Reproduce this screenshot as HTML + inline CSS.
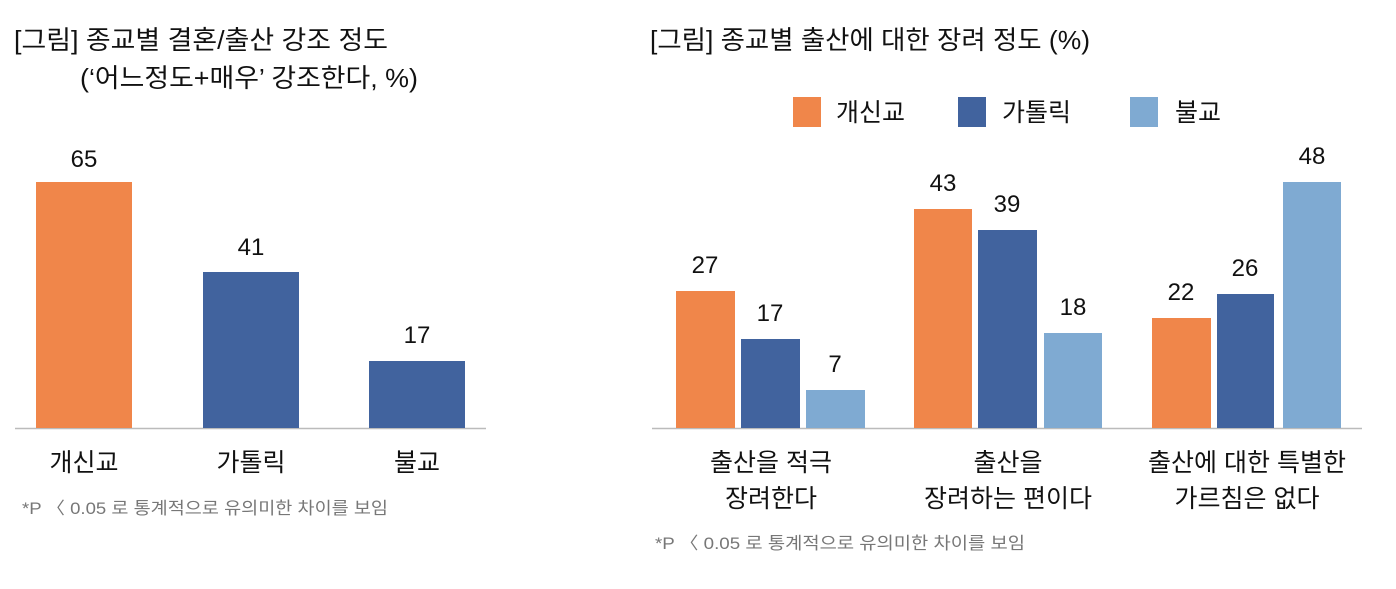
<!DOCTYPE html>
<html><head><meta charset="utf-8"><style>
html,body{margin:0;padding:0;background:#fff;}
svg text{font-family:"Liberation Sans","Noto Sans CJK KR",sans-serif;fill:#111;}
</style></head><body>
<svg width="1396" height="584" viewBox="0 0 1396 584" xmlns="http://www.w3.org/2000/svg">
<g font-size="26">
<text x="14" y="49" textLength="374" lengthAdjust="spacingAndGlyphs">[그림] 종교별 결혼/출산 강조 정도</text>
<text x="80" y="87" textLength="338" lengthAdjust="spacingAndGlyphs">(‘어느정도+매우’ 강조한다, %)</text>
<text x="650" y="49" textLength="440" lengthAdjust="spacingAndGlyphs">[그림] 종교별 출산에 대한 장려 정도 (%)</text>
</g>
<!-- left chart -->
<line x1="15" y1="428.5" x2="486" y2="428.5" stroke="#bbb" stroke-width="1.5"/>
<rect x="36" y="182" width="96" height="246" fill="#F0864A"/>
<rect x="203" y="272" width="96" height="156" fill="#41639E"/>
<rect x="369" y="361" width="96" height="67" fill="#41639E"/>
<g font-size="24" text-anchor="middle">
<text x="84" y="167">65</text>
<text x="251" y="255">41</text>
<text x="417" y="343">17</text>
</g>
<g font-size="25" text-anchor="middle">
<text x="84" y="471">개신교</text>
<text x="251" y="471">가톨릭</text>
<text x="417" y="471">불교</text>
</g>
<text x="22" y="514" font-size="17" style="fill:#777" textLength="366" lengthAdjust="spacingAndGlyphs">*P 〈 0.05 로 통계적으로 유의미한 차이를 보임</text>
<!-- legend -->
<rect x="793" y="97" width="28" height="30" fill="#F0864A"/>
<rect x="958" y="97" width="28" height="30" fill="#41639E"/>
<rect x="1130" y="97" width="28" height="30" fill="#7FAAD2"/>
<g font-size="25">
<text x="836" y="121">개신교</text>
<text x="1002" y="121">가톨릭</text>
<text x="1175" y="121">불교</text>
</g>
<!-- right chart -->
<line x1="652" y1="428.5" x2="1362" y2="428.5" stroke="#bbb" stroke-width="1.5"/>
<rect x="676" y="291" width="59" height="137" fill="#F0864A"/>
<rect x="741" y="339" width="59" height="89" fill="#41639E"/>
<rect x="806" y="390" width="59" height="38" fill="#7FAAD2"/>
<rect x="914" y="209" width="58" height="219" fill="#F0864A"/>
<rect x="978" y="230" width="59" height="198" fill="#41639E"/>
<rect x="1044" y="333" width="58" height="95" fill="#7FAAD2"/>
<rect x="1152" y="318" width="59" height="110" fill="#F0864A"/>
<rect x="1217" y="294" width="57" height="134" fill="#41639E"/>
<rect x="1283" y="182" width="58" height="246" fill="#7FAAD2"/>
<g font-size="24" text-anchor="middle">
<text x="705" y="273">27</text>
<text x="770" y="321">17</text>
<text x="835" y="372">7</text>
<text x="943" y="191">43</text>
<text x="1007" y="212">39</text>
<text x="1073" y="315">18</text>
<text x="1181" y="300">22</text>
<text x="1245" y="276">26</text>
<text x="1312" y="164">48</text>
</g>
<g font-size="25" text-anchor="middle">
<text x="771" y="471">출산을 적극</text>
<text x="771" y="507">장려한다</text>
<text x="1008" y="471">출산을</text>
<text x="1008" y="507">장려하는 편이다</text>
<text x="1247" y="471">출산에 대한 특별한</text>
<text x="1247" y="507">가르침은 없다</text>
</g>
<text x="655" y="549" font-size="17" style="fill:#777" textLength="370" lengthAdjust="spacingAndGlyphs">*P 〈 0.05 로 통계적으로 유의미한 차이를 보임</text>
</svg>
</body></html>
